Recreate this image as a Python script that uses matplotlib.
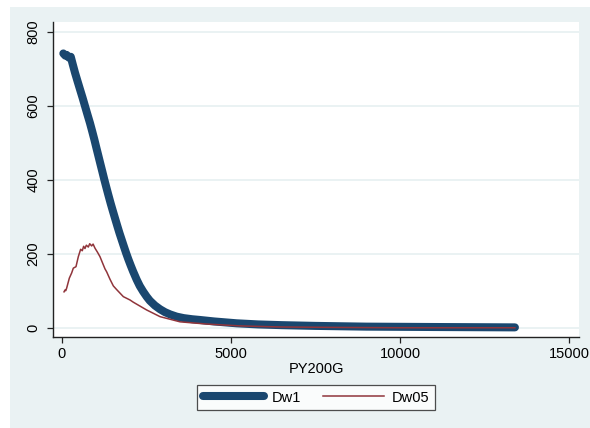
#!/usr/bin/env python3
"""Stata-style line chart of Dw1 / Dw05 against PY200G."""

import matplotlib
matplotlib.use('Agg')
import matplotlib.pyplot as plt
from matplotlib.patches import Rectangle

plt.rcParams['font.family'] = ['Liberation Sans', 'DejaVu Sans']

# Dw1 (thick navy)
dw1_x = [40, 100, 139, 200, 260, 320, 385, 460, 533, 610, 680, 750, 828,
         890, 956, 1015, 1075, 1135, 1193, 1250, 1310, 1371, 1440, 1500,
         1568, 1640, 1700, 1765, 1830, 1900, 1963, 2030, 2100, 2209, 2300,
         2400, 2505, 2600, 2750, 2900, 3050, 3200, 3393, 3600, 3850, 4083,
         4500, 5168, 5800, 6500, 7500, 9000, 11000, 13400]
dw1_y = [742, 736, 738, 731, 733, 712, 690, 667, 645, 622, 600, 578, 554,
         533, 510, 488, 466, 444, 423, 402, 381, 360, 337, 318,
         297, 275, 257, 239, 221, 202, 186, 170, 154, 131, 114,
         99, 85, 74, 61, 51, 43, 37, 31, 27, 24, 22,
         18, 13, 10, 8, 6, 4, 3, 2]

# Dw05 (thin red)
dw05_x = [60, 89, 110, 138, 217, 286, 335, 414, 483, 552, 600, 640, 680,
          720, 779, 820, 877, 920, 976, 1050, 1124, 1200, 1272, 1322, 1420,
          1519, 1618, 1815, 2012, 2110, 2505, 2900, 3492, 4280, 5266, 6500,
          8000, 10000, 13400]
dw05_y = [98, 103, 101, 108, 135, 149, 162, 166, 193, 213, 209, 221, 215,
          224, 219, 228, 222, 227, 216, 205, 193, 176, 160, 152, 132,
          114, 104, 85, 76, 70, 49, 31, 17, 11, 6, 3,
          2, 1, 1]

BG = '#eaf2f3'
NAVY = '#1a476f'
RED = '#90353b'

fig = plt.figure(figsize=(5.9, 4.28), dpi=100)
fig.patch.set_facecolor('white')
fig.patches.append(Rectangle((10 / 590, 0), 1, 1 - 7 / 428, transform=fig.transFigure,
                             facecolor=BG, edgecolor='none', zorder=-10))

ax = fig.add_axes([53 / 590, 1 - 337 / 428, (579 - 53) / 590, (337 - 22) / 428])
ax.set_facecolor('white')

ax.plot(dw1_x, dw1_y, color=NAVY, linewidth=5.8, solid_capstyle='round',
        solid_joinstyle='round', label='Dw1', zorder=3)
ax.plot(dw05_x, dw05_y, color=RED, linewidth=1.1, label='Dw05', zorder=4)

ax.set_xlim(-266, 15296)
ax.set_ylim(-24, 827)
ax.set_xticks([0, 5000, 10000, 15000])
ax.set_yticks([0, 200, 400, 600, 800])
ax.grid(True, axis='y', color=BG, linewidth=1.4, zorder=0)
ax.set_axisbelow(True)

for side in ['top', 'right']:
    ax.spines[side].set_visible(False)
for side in ['left', 'bottom']:
    ax.spines[side].set_color('#222222')
    ax.spines[side].set_linewidth(1.0)

ax.tick_params(direction='out', length=4, width=0.9, color='#222222',
               labelsize=10.5, pad=3)
ax.tick_params(axis='y', pad=5)
for lab in ax.get_yticklabels():
    lab.set_rotation(90)
    lab.set_va('center')

ax.set_xlabel('PY200G', fontsize=10.5, labelpad=1)

leg = fig.legend(loc='center', bbox_to_anchor=(316 / 590, 1 - 397.5 / 428),
                 ncol=2, fontsize=10.5, frameon=True, fancybox=False,
                 handlelength=4.2, handletextpad=0.5, columnspacing=1.5,
                 borderpad=0.4)
leg.get_frame().set_edgecolor('#222222')
leg.get_frame().set_linewidth(0.9)

plt.savefig('out.png', dpi=100)
